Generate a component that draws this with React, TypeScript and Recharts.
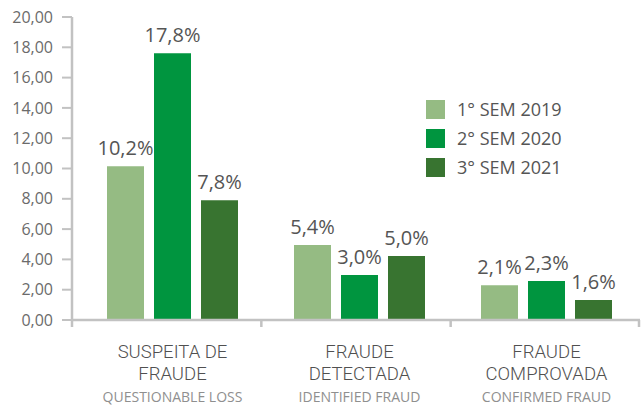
import React from "react";
import { BarChart, Bar, XAxis, YAxis, LabelList } from "recharts";

const categoryTitles = [
  ["SUSPEITA DE", "FRAUDE"],
  ["FRAUDE", "DETECTADA"],
  ["FRAUDE", "COMPROVADA"],
];
const categorySubtitles = ["QUESTIONABLE LOSS", "IDENTIFIED FRAUD", "CONFIRMED FRAUD"];
const seriesNames = ["1° SEM 2019", "2° SEM 2020", "3° SEM 2021"];
const seriesColors = ["#95BB83", "#00953F", "#387430"];
const values2019 = [10.15, 4.95, 2.3];
const values2020 = [17.6, 2.97, 2.57];
const values2021 = [7.9, 4.22, 1.32];
const labels2019 = ["10,2%", "5,4%", "2,1%"];
const labels2020 = ["17,8%", "3,0%", "2,3%"];
const labels2021 = ["7,8%", "5,0%", "1,6%"];
const yTicks = [0, 2, 4, 6, 8, 10, 12, 14, 16, 18, 20];

const W = 641;
const H = 405;
const Y_AXIS_W = 72;
const X_AXIS_H = 85;
const MARGIN = { top: 17, right: 1, left: 0, bottom: 0 };
const PLOT_W = W - Y_AXIS_W - MARGIN.left - MARGIN.right;
const FONT = "'Open Sans', 'Noto Sans', sans-serif";
const TITLE_FONT = "Roboto, 'Open Sans', sans-serif";
const AXIS_COLOR = "#c2c2c2";

const data = categoryTitles.map((t, i) => ({
  name: t.join(" "),
  v2019: values2019[i],
  v2020: values2020[i],
  v2021: values2021[i],
  l2019: labels2019[i],
  l2020: labels2020[i],
  l2021: labels2021[i],
}));

const XTick = (props: any) => {
  const { x, y, index } = props;
  const band = PLOT_W / categoryTitles.length;
  const left = Y_AXIS_W + MARGIN.left + index * band;
  const last = index === categoryTitles.length - 1;
  return (
    <g>
      <line x1={left} x2={left} y1={y} y2={y + 7} stroke={AXIS_COLOR} strokeWidth={2.5} />
      {last && (
        <line x1={left + band - 1} x2={left + band - 1} y1={y} y2={y + 7} stroke={AXIS_COLOR} strokeWidth={2.5} />
      )}
      <text x={x} y={y + 38} textAnchor="middle" fontSize={18.5} fontWeight={300} fill="#505050" fontFamily={TITLE_FONT}>
        {categoryTitles[index][0]}
      </text>
      <text x={x} y={y + 60} textAnchor="middle" fontSize={18.5} fontWeight={300} fill="#505050" fontFamily={TITLE_FONT}>
        {categoryTitles[index][1]}
      </text>
      <text x={x} y={y + 82} textAnchor="middle" fontSize={14} fill="#8f8f8f" fontFamily={FONT}>
        {categorySubtitles[index]}
      </text>
    </g>
  );
};

const makeLabel = (labels: string[]) => (props: any) => {
  const { x, y, width, index } = props;
  return (
    <text x={x + width / 2} y={y - 11} textAnchor="middle" fontSize={20} fill="#555555" fontFamily={FONT}>
      {labels[index]}
    </text>
  );
};

export default function App() {
  return (
    <div style={{ position: "absolute", left: 0, top: 0, width: W, height: H, background: "#fff" }}>
      <BarChart width={W} height={H} data={data} margin={MARGIN} barSize={37} barGap={10}>
        <XAxis
          dataKey="name"
          height={X_AXIS_H}
          padding={{ left: 7, right: 0 }}
          axisLine={{ stroke: AXIS_COLOR, strokeWidth: 2.5 }}
          tickLine={false}
          tickSize={0}
          tickMargin={0}
          tick={<XTick />}
          interval={0}
        />
        <YAxis
          width={Y_AXIS_W}
          domain={[0, 20]}
          ticks={yTicks}
          interval={0}
          axisLine={{ stroke: AXIS_COLOR, strokeWidth: 2.5 }}
          tickLine={{ stroke: AXIS_COLOR, strokeWidth: 2 }}
          tickSize={10}
          tickMargin={9}
          tick={{ fill: "#6b6b6b", fontSize: 16, fontFamily: FONT }}
          tickFormatter={(v: number) => v.toFixed(2).replace(".", ",")}
        />
        <Bar dataKey="v2019" fill={seriesColors[0]} isAnimationActive={false}>
          <LabelList dataKey="l2019" content={makeLabel(labels2019)} />
        </Bar>
        <Bar dataKey="v2020" fill={seriesColors[1]} isAnimationActive={false}>
          <LabelList dataKey="l2020" content={makeLabel(labels2020)} />
        </Bar>
        <Bar dataKey="v2021" fill={seriesColors[2]} isAnimationActive={false}>
          <LabelList dataKey="l2021" content={makeLabel(labels2021)} />
        </Bar>
      </BarChart>
      <div style={{ position: "absolute", left: 426, top: 100, fontFamily: FONT }}>
        {seriesNames.map((n, i) => (
          <div key={n} style={{ display: "flex", alignItems: "center", height: 19, marginBottom: 10 }}>
            <div style={{ width: 19, height: 19, background: seriesColors[i] }} />
            <span style={{ marginLeft: 12, fontSize: 18, color: "#555555", lineHeight: "19px" }}>{n}</span>
          </div>
        ))}
      </div>
    </div>
  );
}
